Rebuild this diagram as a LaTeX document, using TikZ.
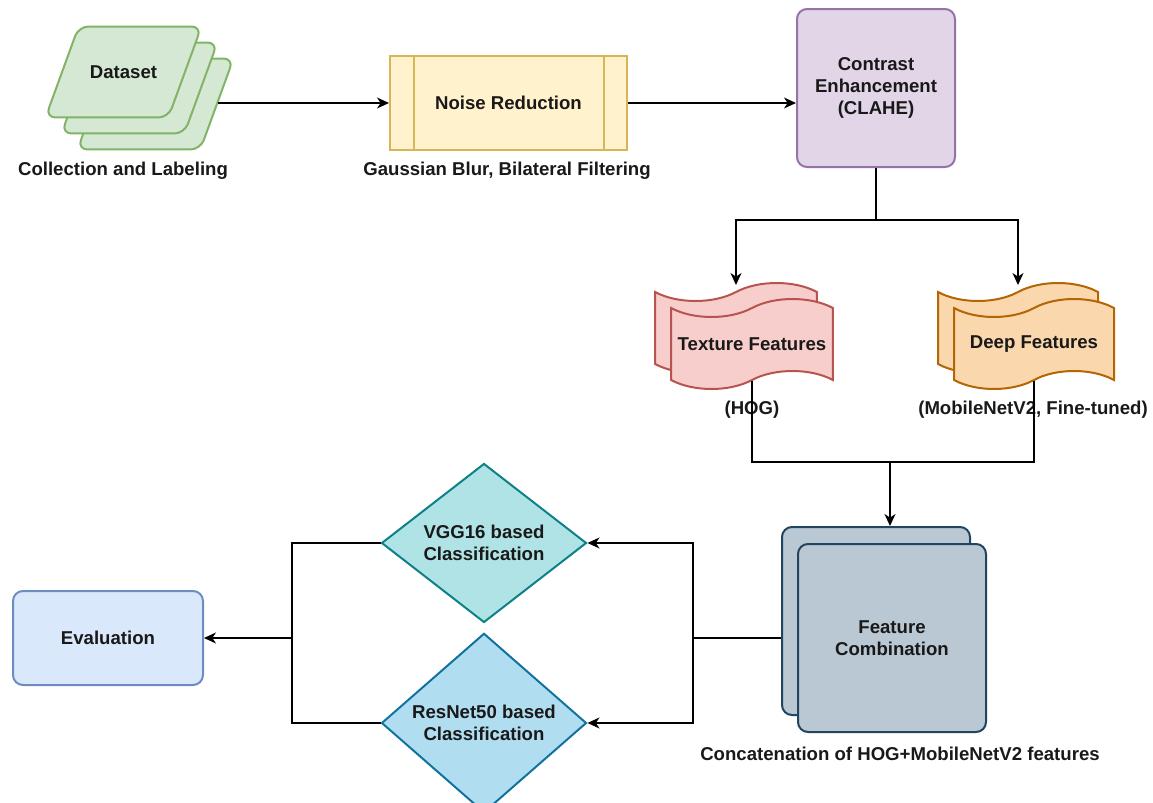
\documentclass[tikz,border=0pt]{standalone}
\usepackage{fontspec}
\setmainfont{Liberation Sans}
\usetikzlibrary{arrows.meta, positioning, calc, shapes.geometric, shapes.symbols, shadows}
\definecolor{greenfill}{HTML}{D5E8D4}
\definecolor{greenline}{HTML}{82B366}
\definecolor{yellowfill}{HTML}{FFF2CC}
\definecolor{yellowline}{HTML}{D6B656}
\definecolor{purplefill}{HTML}{E1D5E7}
\definecolor{purpleline}{HTML}{9673A6}
\definecolor{redfill}{HTML}{F8CECC}
\definecolor{redline}{HTML}{B85450}
\definecolor{orangefill}{HTML}{FAD7AC}
\definecolor{orangeline}{HTML}{B46504}
\definecolor{slatefill}{HTML}{BAC8D3}
\definecolor{slateline}{HTML}{23445D}
\definecolor{tealfill}{HTML}{B0E3E6}
\definecolor{tealline}{HTML}{0E8088}
\definecolor{skyfill}{HTML}{B1DDF0}
\definecolor{skyline}{HTML}{10739E}
\definecolor{evalfill}{HTML}{DAE8FC}
\definecolor{evalline}{HTML}{6C8EBF}

\begin{document}
\begin{tikzpicture}[x=0.5pt, y=-0.5pt,
  every node/.style={font=\fontsize{9.3}{11}\selectfont\bfseries, text=black!90, align=center},
  box/.style={draw, line width=1pt, rounded corners=5pt, inner sep=2pt},
  ribbon/.style={tape, draw, line width=1pt, minimum width=80pt, minimum height=45pt, tape bend height=9pt, copy shadow={shadow xshift=-8pt, shadow yshift=8pt}},
  choice/.style={diamond, draw, line width=1pt, minimum width=102.5pt, minimum height=79.5pt, inner sep=0pt},
  link/.style={line width=0.65pt},
  arr/.style={link, -{Stealth[length=6pt, width=5.5pt, inset=1.8pt]}}]
  \useasboundingbox (0,0) rectangle (1153,803);

  % top row
  \node[box, trapezium, trapezium left angle=70, trapezium right angle=110, trapezium stretches body,
        minimum width=78pt, inner xsep=2pt, inner ysep=19.5pt, fill=greenfill, draw=greenline,
        double copy shadow={shadow xshift=8pt, shadow yshift=-8pt}] (ds) at (123.5,72) {Dataset};
  \node (dslbl) at (123,171) {Collection and Labeling};

  \node[box, rounded corners=0pt, fill=yellowfill, draw=yellowline, minimum width=118.5pt, minimum height=47pt] (nr) at (508.5,103) {Noise Reduction};
  \draw[yellowline, line width=1pt] ([xshift=12.5pt]nr.north west) -- ([xshift=12.5pt]nr.south west);
  \draw[yellowline, line width=1pt] ([xshift=-12pt]nr.north east) -- ([xshift=-12pt]nr.south east);
  \node (nrlbl) at (507,171) {Gaussian Blur, Bilateral Filtering};

  \node[box, fill=purplefill, draw=purpleline, minimum width=79pt, minimum height=79pt] (clahe) at (876,88) {Contrast\\Enhancement\\(CLAHE)};

  \coordinate (dsout) at ([shift={(16pt,-15.5pt)}]ds.east);
  \draw[arr] (dsout) -- (dsout -| nr.west);
  \draw[arr] (nr.east) -- (nr.east -| clahe.west);

  % features
  \coordinate (split) at (876,220);
  \node[ribbon, fill=redfill, draw=redline] (tex) at (752,344) {Texture Features};
  \node[ribbon, fill=orangefill, draw=orangeline] (deep) at (1034,344) {Deep Features};
  \node (texlbl) at (752,410) {(HOG)};
  \node (deeplbl) at (1033,410) {(MobileNetV2, Fine-tuned)};

  \draw[link] (clahe.south) -- (split);
  \draw[arr] (split) -| ([shift={(-8pt,11pt)}]tex.north);
  \draw[arr] (split) -| ([shift={(-8pt,11pt)}]deep.north);

  % combination
  \node[box, fill=slatefill, draw=slateline, minimum width=94pt, minimum height=94pt,
        copy shadow={shadow xshift=-8pt, shadow yshift=8.5pt}] (fc) at (892,638) {Feature\\Combination};
  \node (fclbl) at (900,754) {Concatenation of HOG+MobileNetV2 features};
  \coordinate (merge) at (890,462);
  \coordinate (fctop) at ([yshift=8.5pt]fc.north);
  \draw[link] (tex.south) |- (merge) -| (deep.south);
  \draw[arr] (merge) -- (fctop -| merge);

  % classifiers
  \node[choice, fill=tealfill, draw=tealline] (vgg) at (484,543) {VGG16 based\\Classification};
  \node[choice, fill=skyfill, draw=skyline] (res) at (484,723) {ResNet50 based\\Classification};
  \node[box, fill=evalfill, draw=evalline, minimum width=95pt, minimum height=47pt] (eval) at (108,638) {Evaluation};

  \coordinate (fork) at (693,638);
  \coordinate (join) at (292,638);
  \draw[link] ([xshift=-8pt]fc.west) -- (fork);
  \draw[arr] (fork) |- (vgg.east);
  \draw[arr] (fork) |- (res.east);
  \draw[link] (vgg.west) -| (join);
  \draw[link] (res.west) -| (join);
  \draw[arr] (join) -- (eval.east);
\end{tikzpicture}
\end{document}
